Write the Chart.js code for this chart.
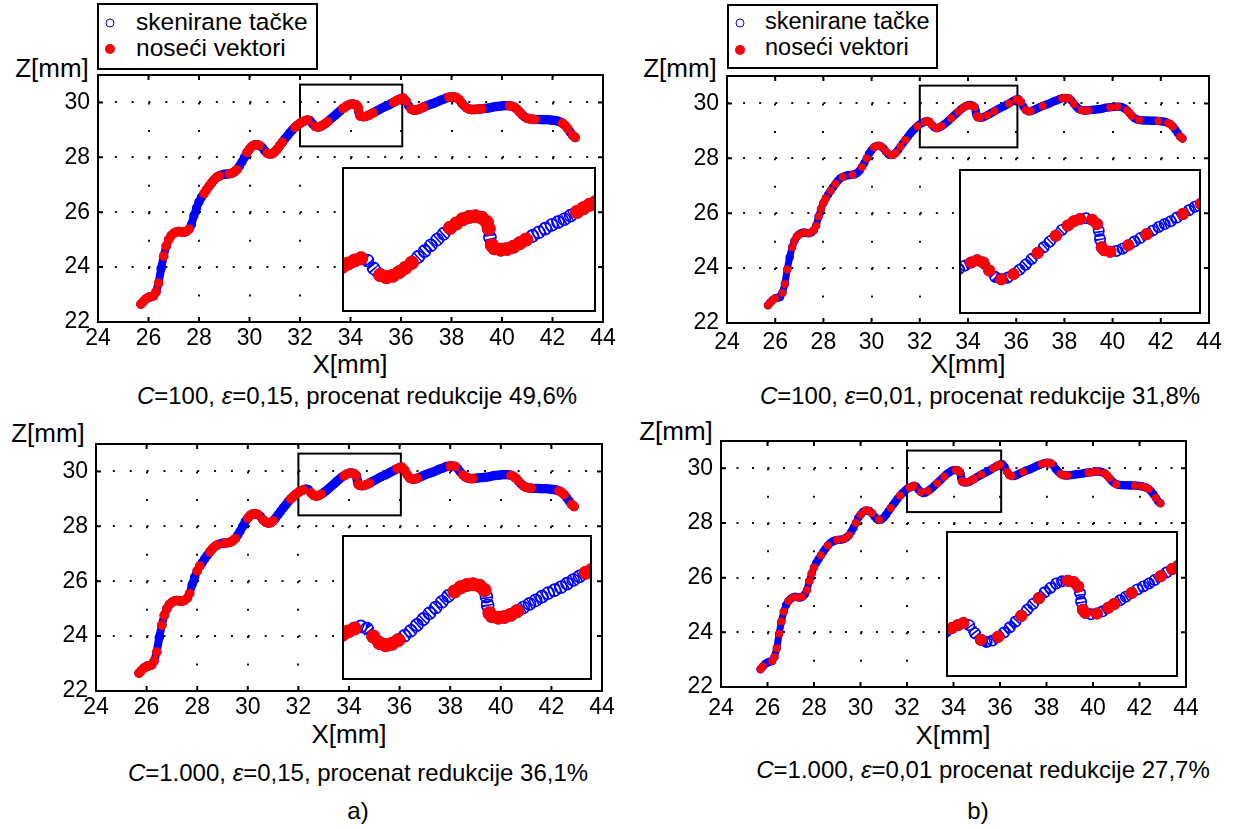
<!DOCTYPE html>
<html>
<head>
<meta charset="utf-8">
<script src="https://cdn.jsdelivr.net/npm/chart.js@4.4.1/dist/chart.umd.min.js"></script>
<style>
  body { margin:0; background:#fff; width:1258px; height:829px; position:relative; overflow:hidden;
         font-family:"Liberation Sans", Arial, sans-serif; color:#000; }
  canvas { position:absolute; }
  .c { position:absolute; white-space:nowrap; line-height:1; transform:translateX(-50%); }
  .l { position:absolute; white-space:nowrap; line-height:1; }
  .box { position:absolute; border:2px solid #000; background:#fff; box-sizing:border-box; }
  .ring { position:absolute; width:9px; height:9px; border:1.6px solid #0000ff; border-radius:50%; box-sizing:border-box; transform:translate(-50%,-50%); }
  .dot { position:absolute; width:10px; height:10px; background:#ff0000; border-radius:50%; transform:translate(-50%,-50%); }
</style>
</head>
<body>

<!-- legends -->
<div class="box" style="left:97px;top:3px;width:221px;height:67px"></div>
<span class="ring" style="left:110px;top:23px"></span>
<span class="dot" style="left:110px;top:49px"></span>
<div class="l" style="left:136px;top:10px;font-size:24.5px">skenirane tačke</div>
<div class="l" style="left:136px;top:36px;font-size:24.5px">noseći vektori</div>

<div class="box" style="left:727px;top:4px;width:211px;height:65px"></div>
<span class="ring" style="left:740px;top:23px"></span>
<span class="dot" style="left:740px;top:50px"></span>
<div class="l" style="left:765px;top:10px;font-size:23.5px">skenirane tačke</div>
<div class="l" style="left:765px;top:36px;font-size:23.5px">noseći vektori</div>

<!-- axis names -->
<div class="c" style="left:52px;top:55px;font-size:26px">Z[mm]</div>
<div class="c" style="left:680px;top:55px;font-size:26px">Z[mm]</div>
<div class="c" style="left:48px;top:420px;font-size:26px">Z[mm]</div>
<div class="c" style="left:676px;top:418px;font-size:26px">Z[mm]</div>
<div class="c" style="left:350px;top:351px;font-size:26px">X[mm]</div>
<div class="c" style="left:968px;top:351px;font-size:26px">X[mm]</div>
<div class="c" style="left:349px;top:721px;font-size:26px">X[mm]</div>
<div class="c" style="left:953px;top:722px;font-size:26px">X[mm]</div>

<!-- captions -->
<div class="c" style="left:357px;top:384px;font-size:24px"><i>C</i>=100, <i>ε</i>=0,15, procenat redukcije 49,6%</div>
<div class="c" style="left:980px;top:384px;font-size:24px"><i>C</i>=100, <i>ε</i>=0,01, procenat redukcije 31,8%</div>
<div class="c" style="left:358px;top:761px;font-size:24px"><i>C</i>=1.000, <i>ε</i>=0,15, procenat redukcije 36,1%</div>
<div class="c" style="left:983px;top:758px;font-size:24px"><i>C</i>=1.000, <i>ε</i>=0,01 procenat redukcije 27,7%</div>
<div class="c" style="left:358px;top:799px;font-size:24px">a)</div>
<div class="c" style="left:978px;top:799px;font-size:24px">b)</div>

<script>
const FONT = '"Liberation Sans", Arial, sans-serif';

// scanned profile, X[mm]
const profX = [25.7, 25.8, 25.9, 26.0, 26.1, 26.2, 26.3, 26.4, 26.5, 26.6, 26.7, 26.8, 26.9,
  27.0, 27.1, 27.2, 27.3, 27.4, 27.5, 27.6, 27.7, 27.8, 27.9, 28.0, 28.1, 28.2, 28.3, 28.4,
  28.5, 28.6, 28.7, 28.8, 28.9, 29.0, 29.1, 29.2, 29.3, 29.4, 29.5, 29.6, 29.7, 29.8, 29.9,
  30.0, 30.1, 30.2, 30.3, 30.4, 30.5, 30.6, 30.7, 30.8, 30.9, 31.0, 31.1, 31.2, 31.3, 31.4,
  31.5, 31.6, 31.7, 31.8, 31.9, 32.0, 32.1, 32.2, 32.3, 32.4, 32.5, 32.6, 32.7, 32.8, 32.9,
  33.0, 33.1, 33.2, 33.3, 33.4, 33.5, 33.6, 33.7, 33.8, 33.9, 34.0, 34.1, 34.2, 34.28, 34.31,
  34.33, 34.36, 34.4, 34.5, 34.6, 34.7, 34.8, 34.9, 35.0, 35.1, 35.2, 35.3, 35.4, 35.5, 35.6,
  35.7, 35.8, 35.9, 36.0, 36.1, 36.2, 36.3, 36.4, 36.5, 36.6, 36.7, 36.8, 36.9, 37.0, 37.1,
  37.2, 37.3, 37.4, 37.5, 37.6, 37.7, 37.8, 37.9, 38.0, 38.1, 38.2, 38.3, 38.4, 38.5, 38.6,
  38.7, 38.8, 38.9, 39.0, 39.1, 39.2, 39.3, 39.4, 39.5, 39.6, 39.7, 39.8, 39.9, 40.0, 40.1,
  40.2, 40.3, 40.4, 40.5, 40.6, 40.7, 40.8, 40.9, 41.0, 41.1, 41.2, 41.3, 41.4, 41.5, 41.6,
  41.7, 41.8, 41.9, 42.0, 42.1, 42.2, 42.3, 42.4, 42.5, 42.6, 42.7, 42.8, 42.9];
// scanned profile, Z[mm]
const profZ = [22.65, 22.75, 22.84, 22.9, 22.92, 22.95, 23.1, 23.42, 23.95, 24.4, 24.76, 25.0, 25.15,
  25.23, 25.28, 25.3, 25.28, 25.27, 25.3, 25.38, 25.55, 25.88, 26.15, 26.38, 26.55, 26.68, 26.82, 26.95,
  27.07, 27.18, 27.27, 27.32, 27.36, 27.38, 27.39, 27.4, 27.42, 27.47, 27.55, 27.68, 27.83, 28.0, 28.18,
  28.3, 28.4, 28.45, 28.46, 28.43, 28.36, 28.24, 28.15, 28.12, 28.13, 28.2, 28.3, 28.43, 28.55, 28.67,
  28.78, 28.9, 29.0, 29.09, 29.17, 29.24, 29.29, 29.33, 29.36, 29.33, 29.22, 29.13, 29.1, 29.12, 29.17,
  29.23, 29.3, 29.38, 29.46, 29.54, 29.62, 29.7, 29.78, 29.84, 29.9, 29.93, 29.94, 29.92, 29.86, 29.77,
  29.65, 29.54, 29.5, 29.48, 29.49, 29.52, 29.57, 29.62, 29.67, 29.72, 29.77, 29.82, 29.86, 29.9, 29.95,
  30.0, 30.05, 30.1, 30.14, 30.15, 30.05, 29.88, 29.76, 29.72, 29.72, 29.75, 29.79, 29.83, 29.87, 29.91,
  29.94, 29.97, 30.01, 30.05, 30.09, 30.12, 30.16, 30.19, 30.2, 30.2, 30.18, 30.1, 29.98, 29.88, 29.8,
  29.76, 29.74, 29.74, 29.75, 29.76, 29.77, 29.78, 29.79, 29.8, 29.82, 29.84, 29.85, 29.86, 29.87, 29.88,
  29.88, 29.88, 29.86, 29.82, 29.75, 29.65, 29.55, 29.47, 29.42, 29.4, 29.39, 29.38, 29.38, 29.38, 29.37,
  29.37, 29.37, 29.36, 29.35, 29.34, 29.32, 29.29, 29.24, 29.16, 29.05, 28.92, 28.8, 28.72];

// support vectors, C=100, eps=0,15 (X ranges)
const svC100e15 = [[25.7, 26.42], [26.58, 27.68], [28.2, 28.85], [29.15, 29.58], [29.9, 30.45],
  [30.65, 31.35], [31.72, 32.36], [32.55, 33.12], [33.65, 34.31], [34.36, 34.93], [35.64, 36.28],
  [36.36, 36.95], [37.86, 38.46], [38.6, 39.2], [40.3, 40.83], [40.99, 41.39], [42.38, 42.6], [42.8, 43.0]];
// support vectors, C=1.000, eps=0,15 (X ranges)
const svC1000e15 = [[25.7, 26.4], [26.6, 27.77], [28.0, 28.15], [28.43, 28.83], [29.1, 29.55],
  [29.94, 30.4], [30.55, 31.06], [31.65, 32.23], [32.5, 32.95], [33.78, 34.28], [34.36, 34.8],
  [35.88, 36.15], [36.2, 36.72], [37.96, 38.29], [38.49, 38.95], [40.4, 40.73], [40.86, 41.25],
  [42.24, 42.5], [42.72, 43.0]];
// support vectors, C=100, eps=0,01 (X of each vector)
const svC100e01 = [25.7, 25.8, 25.9, 26.0, 26.3, 26.4, 26.5, 26.7, 26.8, 26.9, 27.0, 27.2, 27.4,
  27.6, 27.7, 27.8, 27.9, 28.0, 28.1, 28.3, 28.5, 28.8, 29.2, 29.6, 29.8, 30.1, 30.2, 30.3, 30.4,
  30.6, 30.8, 30.9, 31.0, 31.2, 31.4, 31.9, 32.2, 32.3, 32.4, 32.5, 32.7, 32.9, 33.3, 33.6, 33.8,
  33.9, 34.0, 34.2, 34.28, 34.36, 34.4, 34.5, 34.8, 35.1, 35.7, 36.0, 36.1, 36.2, 36.4, 36.5, 36.6,
  37.1, 37.9, 38.0, 38.1, 38.2, 38.4, 38.7, 38.8, 38.9, 39.0, 39.9, 40.2, 40.6, 40.7, 40.8, 41.1,
  41.9, 42.3, 42.4, 42.5, 42.8, 42.9];
// support vectors, C=1.000, eps=0,01 (X of each vector)
const svC1000e01 = [25.7, 25.8, 26.2, 26.3, 26.4, 26.5, 26.6, 26.7, 26.9, 27.1, 27.3, 27.5, 27.7,
  27.8, 27.9, 28.0, 28.3, 28.6, 29.0, 29.3, 29.5, 29.8, 30.0, 30.2, 30.3, 30.5, 30.8, 31.3, 31.7,
  32.1, 32.2, 32.3, 32.6, 32.9, 33.3, 33.6, 34.1, 34.2, 34.28, 34.36, 34.4, 34.6, 34.8, 34.9, 35.2,
  35.7, 35.9, 36.0, 36.3, 36.4, 36.5, 37.0, 37.8, 38.0, 38.1, 38.2, 38.6, 38.7, 38.8, 38.9, 39.8,
  40.0, 40.2, 40.5, 40.6, 40.7, 41.0, 41.8, 42.1, 42.2, 42.4, 42.7, 42.9];

const xLimits = [24, 44];
const zLimits = [22, 31];
const tickStep = 2;
const zoomBox = [32, 36.05, 28.4, 30.65];   // x0, x1, z0, z1
const insetLimits = [32, 36, 28.62, 30.62];

const scanned = profX.map((x, i) => ({ x: x, y: profZ[i] }));
const byRanges = (rs) => scanned.filter((p) => rs.some((r) => p.x >= r[0] - 1e-6 && p.x <= r[1] + 1e-6));
const byList = (xs) => scanned.filter((p) => xs.some((v) => Math.abs(v - p.x) < 1e-6));

const frame = {
  id: "frame",
  beforeDraw(chart, args, opts) {
    if (!opts.fill) return;
    const ctx = chart.ctx;
    ctx.save();
    ctx.fillStyle = "#fff";
    ctx.fillRect(0, 0, chart.width, chart.height);
    ctx.restore();
  },
  beforeDatasetsDraw(chart, args, opts) {
    if (!opts.zoom) return;
    const { x, y } = chart.scales;
    const [x0, x1, z0, z1] = opts.zoom;
    const ctx = chart.ctx;
    ctx.save();
    ctx.strokeStyle = "#000";
    ctx.lineWidth = 2;
    const l = x.getPixelForValue(x0), r = x.getPixelForValue(x1);
    const t = y.getPixelForValue(z1), b = y.getPixelForValue(z0);
    ctx.strokeRect(l, t, r - l, b - t);
    ctx.restore();
  },
  afterDraw(chart, args, opts) {
    const a = chart.chartArea;
    const ctx = chart.ctx;
    ctx.save();
    ctx.strokeStyle = "#000";
    ctx.lineWidth = 2;
    if (opts.ticks) {
      const len = 5;
      ctx.beginPath();
      chart.scales.x.ticks.forEach((t) => {
        const px = chart.scales.x.getPixelForValue(t.value);
        ctx.moveTo(px, a.bottom); ctx.lineTo(px, a.bottom - len);
        ctx.moveTo(px, a.top); ctx.lineTo(px, a.top + len);
      });
      chart.scales.y.ticks.forEach((t) => {
        const py = chart.scales.y.getPixelForValue(t.value);
        ctx.moveTo(a.left, py); ctx.lineTo(a.left + len, py);
        ctx.moveTo(a.right, py); ctx.lineTo(a.right - len, py);
      });
      ctx.stroke();
      ctx.strokeRect(a.left, a.top, a.right - a.left, a.bottom - a.top);
    } else {
      ctx.strokeRect(a.left + 1, a.top + 1, a.right - a.left - 2, a.bottom - a.top - 2);
    }
    ctx.restore();
  },
};

const panels = [
  { box: [98, 75, 603, 322], inset: [342, 167, 596, 312], sv: byRanges(svC100e15), lbl: 3, line: 8, red: 4.8, ring: 6, insRed: 7 },
  { box: [727, 76, 1209, 323], inset: [959, 169, 1201, 314], sv: byList(svC100e01), lbl: 6, line: 7, red: 3.9, ring: 5.2, insRed: 6 },
  { box: [96, 444, 602, 691], inset: [342, 535, 592, 680], sv: byRanges(svC1000e15), lbl: 3, line: 8, red: 4.8, ring: 6, insRed: 7 },
  { box: [721, 441, 1186, 687], inset: [946, 531, 1178, 677], sv: byList(svC1000e01), lbl: 8, line: 7, red: 3.9, ring: 5.2, insRed: 6 },
];

function addCanvas(left, top, w, h) {
  const cv = document.createElement("canvas");
  cv.width = w;
  cv.height = h;
  cv.style.left = left + "px";
  cv.style.top = top + "px";
  document.body.appendChild(cv);
  return cv;
}

function makeMain(p) {
  const [L, T, R, B] = p.box;
  const padL = 60, padT = 30, padR = 30, padB = 40;
  const pw = R - L, ph = B - T;
  const cv = addCanvas(L - padL, T - padT, pw + padL + padR, ph + padT + padB);
  new Chart(cv, {
    type: "scatter",
    data: {
      datasets: [
        {
          label: "noseći vektori",
          data: p.sv,
          order: 1,
          pointRadius: p.red,
          pointBackgroundColor: "#ff0000",
          pointBorderWidth: 0,
        },
        {
          label: "skenirane tačke",
          data: scanned,
          order: 2,
          showLine: true,
          borderColor: "#0000ff",
          borderWidth: p.line,
          borderCapStyle: "round",
          borderJoinStyle: "round",
          pointRadius: p.line / 2,
          pointBorderColor: "#0000ff",
          pointBackgroundColor: "rgba(0,0,0,0)",
          pointBorderWidth: 1.5,
        },
      ],
    },
    options: {
      responsive: false,
      animation: false,
      devicePixelRatio: 1,
      events: [],
      layout: { autoPadding: false, padding: { left: 0, top: padT, right: padR, bottom: 0 } },
      plugins: { legend: { display: false }, tooltip: { enabled: false }, frame: { zoom: zoomBox, ticks: true } },
      scales: {
        x: {
          type: "linear",
          min: xLimits[0],
          max: xLimits[1],
          afterFit: (s) => { s.height = padB; },
          ticks: { stepSize: tickStep, includeBounds: false, padding: p.lbl, color: "#000", font: { family: FONT, size: 23 }, maxRotation: 0, autoSkip: false },
          grid: { color: "#111", lineWidth: 2, drawTicks: false },
          border: { display: false, dash: [2, ph / 9 - 2] },
        },
        y: {
          type: "linear",
          min: zLimits[0],
          max: zLimits[1],
          afterFit: (s) => { s.width = padL; },
          ticks: { stepSize: tickStep, includeBounds: false, padding: 8, color: "#000", font: { family: FONT, size: 23 } },
          grid: { color: "#111", lineWidth: 2, drawTicks: false },
          border: { display: false, dash: [2, pw / 30 - 2] },
        },
      },
    },
    plugins: [frame],
  });
}

function makeInset(p) {
  const [L, T, R, B] = p.inset;
  const cv = addCanvas(L, T, R - L, B - T);
  new Chart(cv, {
    type: "scatter",
    data: {
      datasets: [
        { data: p.sv, order: 1, clip: 0, pointRadius: p.insRed, pointBackgroundColor: "#ff0000", pointBorderWidth: 0 },
        {
          data: scanned, order: 2, clip: 0, showLine: true,
          borderColor: "#0000ff", borderWidth: p.ring * 2, borderDash: [1.6, 2.2],
          pointRadius: p.ring, pointBorderColor: "#0000ff", pointBackgroundColor: "rgba(0,0,0,0)", pointBorderWidth: 1.6,
        },
      ],
    },
    options: {
      responsive: false,
      animation: false,
      devicePixelRatio: 1,
      events: [],
      layout: { autoPadding: false, padding: 0 },
      plugins: { legend: { display: false }, tooltip: { enabled: false }, frame: { fill: true, ticks: false } },
      scales: {
        x: { type: "linear", display: false, min: insetLimits[0], max: insetLimits[1] },
        y: { type: "linear", display: false, min: insetLimits[2], max: insetLimits[3] },
      },
    },
    plugins: [frame],
  });
}

panels.forEach((p) => { makeMain(p); makeInset(p); });
</script>
</body>
</html>
